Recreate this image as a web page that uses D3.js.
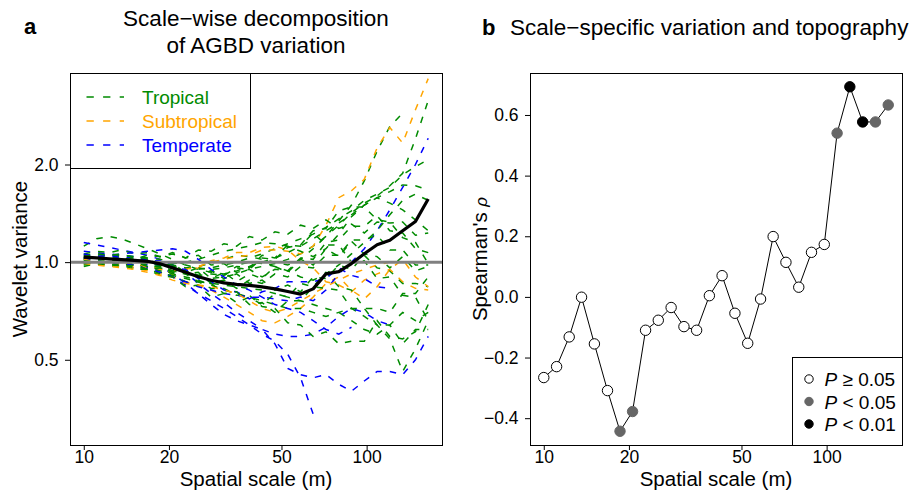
<!DOCTYPE html>
<html>
<head>
<meta charset="utf-8">
<script src="https://cdn.jsdelivr.net/npm/d3@7"></script>
<style>
  body { margin: 0; background: #fff; }
  svg text { font-family: "Liberation Sans", Arial, sans-serif; fill: #000; }
</style>
</head>
<body>
<svg id="chart" width="914" height="493"></svg>
<script>
// Spatial scales (m), shared by both panels
const scales = [10, 11.1, 12.3, 13.6, 15.1, 16.8, 18.6, 20.6, 22.9, 25.4, 28.2, 31.3, 34.7, 38.5,
  42.7, 47.4, 52.6, 58.4, 64.7, 71.8, 79.7, 88.4, 98.1, 108.9, 120.8, 134.1, 148.8, 165.1];

// Panel a: normalised wavelet variance per site
const tropical = [
  [1.02,1.03,1.02,1.01,1.00,0.99,0.98,0.97,0.96,0.97,0.99,1.02,1.05,1.04,1.02,1.00,0.98,1.02,1.10,1.20,1.34,1.50,1.78,2.20,2.62,2.88],
  [1.00,1.00,0.99,0.99,0.98,0.97,0.96,0.94,0.92,0.90,0.89,0.90,0.92,0.95,0.97,0.99,1.02,1.06,1.12,1.20,1.30,1.42,1.52,1.60,1.72,1.88,2.40,3.15],
  [1.05,1.06,1.05,1.04,1.03,1.02,1.00,0.98,0.96,0.95,0.96,0.98,1.00,1.03,1.06,1.10,1.14,1.18,1.22,1.28,1.36,1.44,1.55,1.62,1.70,1.86,1.97,2.07],
  [1.12,1.18,1.20,1.18,1.14,1.10,1.06,1.02,0.98,0.95,0.93,0.92,0.94,0.97,1.00,1.03,1.07,1.12,1.18,1.25,1.32,1.40,1.50,1.58,1.65,1.73,1.72,1.67],
  [1.03,1.05,1.02,1.04,1.00,1.03,0.97,0.99,0.93,0.96,0.89,0.93,0.87,0.92,0.89,0.97,0.93,1.02,0.98,1.10,1.04,1.16,1.06,1.04,0.96,1.04,0.94,0.97],
  [0.99,0.99,0.98,0.97,0.96,0.95,0.93,0.91,0.89,0.87,0.86,0.85,0.84,0.83,0.82,0.80,0.78,0.76,0.74,0.72,0.70,0.66,0.62,0.60,0.64,0.70,0.66,0.70],
  [1.01,0.99,1.01,0.98,0.99,0.96,0.97,0.93,0.95,0.91,0.94,0.89,0.92,0.86,0.88,0.82,0.85,0.81,0.90,0.89,0.98,0.95,1.05,0.96,0.94,0.86,0.86,0.84],
  [1.00,1.01,1.00,0.99,0.98,0.96,0.94,0.92,0.90,0.88,0.85,0.82,0.80,0.78,0.76,0.74,0.72,0.72,0.70,0.68,0.70,0.72,0.68,0.64,0.58,0.46,0.54,0.66],
  [0.98,1.00,0.98,0.99,0.96,0.96,0.92,0.91,0.87,0.87,0.83,0.83,0.79,0.79,0.73,0.72,0.65,0.64,0.59,0.61,0.56,0.57,0.57,0.66,0.59,0.58,0.61,0.74],
  [1.06,1.08,1.07,1.09,1.06,1.07,1.04,1.06,1.03,1.09,1.08,1.14,1.12,1.20,1.17,1.24,1.22,1.30,1.27,1.35,1.27,1.31,1.23,1.33,1.32,1.33,1.21,1.23],
  [1.02,1.02,1.03,1.03,1.02,1.01,1.00,0.99,1.00,1.02,1.05,1.08,1.10,1.12,1.15,1.14,1.12,1.08,1.04,1.10,1.22,1.38,1.50,1.58,1.52,1.45,1.35,1.25],
  [1.04,1.02,1.03,1.00,1.01,0.98,0.98,0.94,0.94,0.91,0.92,0.91,0.96,0.95,1.03,1.02,1.11,1.13,1.25,1.27,1.44,1.48,1.48,1.35,1.33,1.19,1.15,0.99],
  [0.97,0.99,0.97,0.98,0.95,0.95,0.91,0.90,0.84,0.85,0.78,0.80,0.75,0.78,0.74,0.80,0.78,0.86,0.84,0.93,0.84,0.82,0.72,0.72,0.70,0.80,0.80,0.90],
  [1.00,0.98,0.99,0.97,0.98,0.95,0.96,0.92,0.94,0.90,0.94,0.91,0.97,0.96,1.05,1.03,1.13,1.12,1.23,1.13,1.13,1.00,1.01,0.89,0.90,0.79,0.78,0.66],
  [1.03,1.04,1.05,1.05,1.04,1.03,1.02,1.00,0.98,0.96,0.95,0.96,0.98,1.00,0.99,0.97,0.94,0.90,0.88,0.92,0.98,1.06,1.15,1.25,1.40,1.55,1.62,1.55],
  [1.01,1.00,1.01,0.99,1.00,0.97,0.97,0.93,0.92,0.87,0.86,0.80,0.81,0.74,0.75,0.70,0.76,0.76,0.84,0.83,0.82,0.72,0.72,0.64,0.64,0.56,0.62,0.62],
  [0.99,1.01,1.00,1.03,1.02,1.05,1.04,1.07,1.03,1.05,0.98,0.99,0.93,0.95,0.90,0.95,0.94,1.03,1.02,1.15,1.17,1.29,1.29,1.39,1.25,1.23,1.10,1.07],
  [1.04,1.06,1.05,1.06,1.03,1.03,0.99,0.98,0.92,0.93,0.86,0.88,0.83,0.88,0.86,0.92,0.90,0.97,0.96,1.05,1.05,1.17,1.17,1.21,1.09,1.09,0.98,0.98]
];
const subtropical = [
  [1.00,0.99,0.99,0.98,0.97,0.96,0.95,0.94,0.95,0.97,1.00,1.02,1.04,1.05,1.09,1.09,1.08,1.06,1.12,1.30,1.58,1.66,1.80,2.25,2.60,2.33,2.95,3.68],
  [1.00,0.99,0.98,0.97,0.96,0.94,0.92,0.90,0.87,0.85,0.82,0.78,0.74,0.70,0.66,0.65,0.68,0.72,0.78,0.86,0.90,0.82,0.77,0.84,0.95,1.02,0.90,0.84],
  [1.02,1.00,1.01,0.99,1.00,0.96,0.96,0.92,0.95,0.96,1.01,1.03,1.07,1.07,1.11,1.12,1.09,1.01,0.96,0.87,0.85,0.81,0.88,0.92,0.95,0.87,0.83,0.82],
  [0.99,0.98,0.97,0.96,0.95,0.93,0.91,0.88,0.86,0.85,0.84,0.82,0.80,0.76,0.72,0.70,0.72,0.76,0.80,0.84,0.88,0.92,0.95,0.98,1.00]
];
const temperate = [
  [1.05,1.04,1.03,1.02,1.00,0.98,0.94,0.90,0.85,0.80,0.76,0.72,0.68,0.64,0.60,0.57,0.52,0.44,0.34],
  [1.08,1.07,1.06,1.05,1.04,1.01,0.97,0.92,0.86,0.80,0.74,0.69,0.66,0.64,0.62,0.56,0.47,0.45,0.44,0.45,0.42,0.40,0.43,0.46,0.46,0.45,0.50,0.59],
  [1.15,1.13,1.11,1.09,1.07,1.05,1.02,0.98,0.93,0.86,0.80,0.75,0.70,0.66,0.62,0.60,0.59,0.59,0.60,0.63,0.68,0.72,0.70,0.66,0.64],
  [1.02,1.01,1.00,0.99,0.98,0.96,0.93,0.90,0.87,0.84,0.82,0.80,0.79,0.78,0.78,0.77,0.76,0.78,0.76,0.82,0.92,1.00,1.10,1.25,1.45,1.70,2.00,2.41],
  [1.06,1.04,1.05,1.03,1.04,1.01,1.01,0.96,0.95,0.89,0.87,0.82,0.81,0.77,0.81,0.83,0.87,0.87,0.87,0.89,0.96,0.91,0.89,0.84,0.83],
  [1.03,1.04,1.05,1.06,1.07,1.08,1.09,1.10,1.08,1.02,0.95,0.90,0.85,0.82,0.78,0.74,0.72,0.70,0.66,0.62,0.60,0.63]
];
const meanVariance = [1.036,1.031,1.024,1.018,1.013,1.006,0.988,0.960,0.930,0.901,0.879,0.863,0.854,0.848,
  0.839,0.827,0.812,0.797,0.827,0.920,0.935,0.990,1.061,1.131,1.168,1.249,1.335,1.565];

// Panel b: Spearman's rho with topography, and significance class (0: P>=0.05, 1: P<0.05, 2: P<0.01)
const rho = [-0.266,-0.230,-0.132,-0.001,-0.155,-0.309,-0.443,-0.378,-0.110,-0.077,-0.035,-0.098,-0.110,0.004,
  0.070,-0.054,-0.153,-0.007,0.199,0.114,0.032,0.147,0.173,0.540,0.693,0.577,0.577,0.633];
const pClass = [0,0,0,0,0,0,1,1,0,0,0,0,0,0,0,0,0,0,0,0,0,0,0,1,2,2,1,1];

const xTicks = [10, 20, 50, 100];
const yTicksA = [0.5, 1.0, 2.0];
const yTicksB = [-0.4, -0.2, 0.0, 0.2, 0.4, 0.6];

const COL = { tropical: '#008B00', subtropical: '#FFA500', temperate: '#0000FF' };
const PFILL = ['#ffffff', '#666666', '#000000'];
const FONT = '"Liberation Sans", Arial, sans-serif';
const DASH = '6.5,8';

const svg = d3.select('#chart');

// R-style 4% padding on log x
const lx = d3.extent(scales).map(Math.log10);
const padX = (lx[1] - lx[0]) * 0.04;
const xDomain = [Math.pow(10, lx[0] - padX), Math.pow(10, lx[1] + padX)];

function axes(g, x, y, yVals, yFmt, W, H) {
  g.append('g')
    .attr('transform', `translate(0,${H})`)
    .call(d3.axisBottom(x).tickValues(xTicks).tickFormat(d3.format('d')).tickSize(5).tickPadding(1))
    .call(a => a.select('.domain').remove())
    .call(a => a.selectAll('text').attr('font-size', 17.5).attr('font-family', FONT).attr('fill', '#000'));
  g.append('g')
    .call(d3.axisLeft(y).tickValues(yVals).tickFormat(yFmt).tickSize(5).tickPadding(6.5))
    .call(a => a.select('.domain').remove())
    .call(a => a.selectAll('text').attr('font-size', 17.5).attr('font-family', FONT).attr('fill', '#000'));
  g.append('rect')
    .attr('x', 0.5).attr('y', 0.5).attr('width', W).attr('height', H)
    .attr('fill', 'none').attr('stroke', '#000').attr('stroke-width', 1);
  g.append('text')
    .attr('x', W / 2).attr('y', H + 41)
    .attr('text-anchor', 'middle').attr('font-size', 20.5)
    .text('Spatial scale (m)');
}

// ---------- Panel a ----------
(function panelA() {
  const L = 70, T = 73, W = 372, H = 372;
  const g = svg.append('g').attr('transform', `translate(${L},${T})`);
  const x = d3.scaleLog().domain(xDomain).range([0, W]);
  const y = d3.scaleLog().domain([0.273, 3.83]).range([H, 0]);
  const line = d3.line().x((d, i) => x(scales[i])).y(d => y(d));

  // interleave groups so colours overlap like the original
  const series = [];
  for (let i = 0; i < tropical.length; i++) {
    series.push({ v: tropical[i], c: COL.tropical });
    if (i % 3 === 1 && temperate[(i - 1) / 3] !== undefined) series.push({ v: temperate[(i - 1) / 3], c: COL.temperate });
    if (i % 4 === 2 && subtropical[(i - 2) / 4] !== undefined) series.push({ v: subtropical[(i - 2) / 4], c: COL.subtropical });
  }

  g.append('g').selectAll('path')
    .data(series).join('path')
    .attr('d', d => line(d.v))
    .attr('fill', 'none')
    .attr('stroke', d => d.c)
    .attr('stroke-width', 1.5)
    .attr('stroke-dasharray', DASH);

  g.append('line')
    .attr('x1', 0).attr('x2', W).attr('y1', y(1)).attr('y2', y(1))
    .attr('stroke', '#808080').attr('stroke-width', 3);

  g.append('path')
    .attr('d', line(meanVariance))
    .attr('fill', 'none').attr('stroke', '#000').attr('stroke-width', 3.2)
    .attr('stroke-linejoin', 'round');

  axes(g, x, y, yTicksA, d3.format('.1f'), W, H);

  g.append('text')
    .attr('transform', `translate(-43,${H / 2}) rotate(-90)`)
    .attr('text-anchor', 'middle').attr('font-size', 20.5)
    .text('Wavelet variance');

  // legend
  const lg = g.append('g');
  lg.append('rect').attr('x', 0.5).attr('y', 0.5).attr('width', 180).attr('height', 95)
    .attr('fill', '#fff').attr('stroke', '#000');
  const items = [['Tropical', COL.tropical], ['Subtropical', COL.subtropical], ['Temperate', COL.temperate]];
  items.forEach(([lab, c], i) => {
    const yy = 24 + i * 24;
    lg.append('line').attr('x1', 16.5).attr('x2', 54).attr('y1', yy).attr('y2', yy)
      .attr('stroke', c).attr('stroke-width', 1.7).attr('stroke-dasharray', '7.3,9.3');
    lg.append('text').attr('x', 72).attr('y', yy + 7).attr('font-size', 19)
      .style('fill', c).text(lab);
  });

  svg.append('text').attr('x', 24).attr('y', 34).attr('font-size', 22).attr('font-weight', 'bold').text('a');
  const tt = svg.append('text').attr('text-anchor', 'middle').attr('font-size', 22.5);
  tt.append('tspan').attr('x', L + W / 2).attr('y', 26).text('Scale\u2212wise decomposition');
  tt.append('tspan').attr('x', L + W / 2).attr('y', 53).text('of AGBD variation');
})();

// ---------- Panel b ----------
(function panelB() {
  const L = 530, T = 73, W = 372, H = 372;
  const g = svg.append('g').attr('transform', `translate(${L},${T})`);
  const x = d3.scaleLog().domain(xDomain).range([0, W]);
  const ly = d3.extent(rho);
  const padY = (ly[1] - ly[0]) * 0.04;
  const y = d3.scaleLinear().domain([ly[0] - padY, ly[1] + padY]).range([H, 0]);

  g.append('path')
    .attr('d', d3.line().x((d, i) => x(scales[i])).y(d => y(d))(rho))
    .attr('fill', 'none').attr('stroke', '#000').attr('stroke-width', 1);

  g.append('g').selectAll('circle')
    .data(rho).join('circle')
    .attr('cx', (d, i) => x(scales[i]))
    .attr('cy', d => y(d))
    .attr('r', 5.2)
    .attr('fill', (d, i) => PFILL[pClass[i]])
    .attr('stroke', (d, i) => pClass[i] === 1 ? '#666666' : '#000')
    .attr('stroke-width', 1);

  const fmt = v => d3.format('.1f')(v).replace('-', '\u2212');
  axes(g, x, y, yTicksB, fmt, W, H);

  const yl = g.append('text')
    .attr('transform', `translate(-43,${H / 2}) rotate(-90)`)
    .attr('text-anchor', 'middle').attr('font-size', 20.5);
  yl.append('tspan').text("Spearman's ");
  yl.append('tspan').attr('font-style', 'italic').attr('font-size', 17).text('\u03C1');

  // legend
  const lg = g.append('g').attr('transform', `translate(${262.5},${284.5})`);
  lg.append('rect').attr('x', 0).attr('y', 0).attr('width', 110).attr('height', 88)
    .attr('fill', '#fff').attr('stroke', '#000');
  const labs = [['\u2265', 0], ['<', 1], ['<', 2]];
  labs.forEach(([op, k], i) => {
    const yy = 21.5 + i * 22.5;
    lg.append('circle').attr('cx', 16.5).attr('cy', yy).attr('r', 4.2)
      .attr('fill', PFILL[k]).attr('stroke', k === 1 ? '#666666' : '#000');
    const t = lg.append('text').attr('x', 32).attr('y', yy + 7).attr('font-size', 19);
    t.append('tspan').attr('font-style', 'italic').text('P');
    t.append('tspan').text(` ${op} ${k === 2 ? '0.01' : '0.05'}`);
  });

  svg.append('text').attr('x', 482).attr('y', 35).attr('font-size', 22).attr('font-weight', 'bold').text('b');
  svg.append('text').attr('x', 510).attr('y', 35).attr('font-size', 22.5)
    .text('Scale\u2212specific variation and topography');
})();
</script>
</body>
</html>
